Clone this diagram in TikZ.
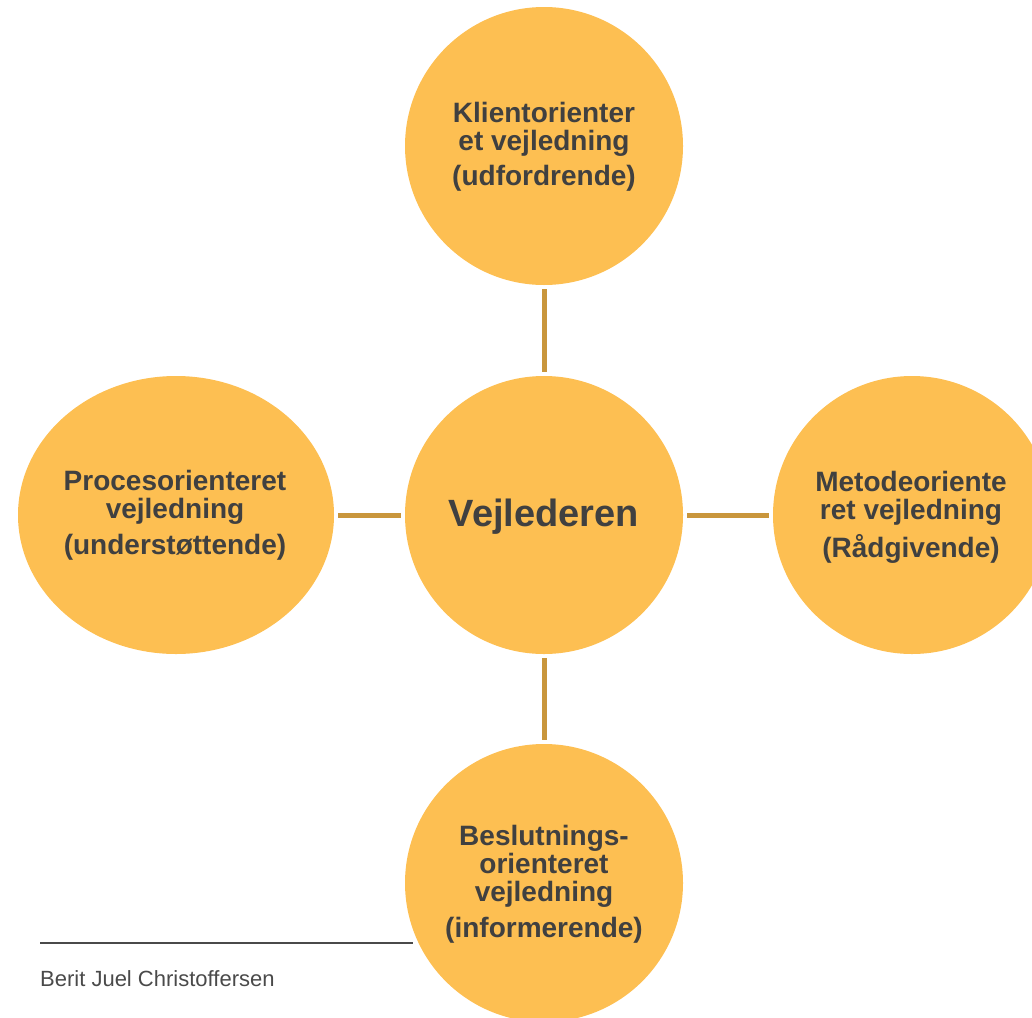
\documentclass[tikz,border=0pt]{standalone}
\usepackage{fontspec}
\setmainfont{Liberation Sans}
\usetikzlibrary{shapes.geometric}
\definecolor{bubble}{HTML}{FDBF52}
\definecolor{link}{HTML}{C9963C}
\definecolor{ink}{HTML}{404040}
\definecolor{foot}{HTML}{4A4A4A}
\tikzset{
  bubble/.style={circle, fill=bubble, draw=none, minimum size=278pt, inner sep=0pt},
  oval/.style={ellipse, fill=bubble, draw=none, minimum width=316pt, minimum height=278pt, inner sep=0pt},
  conn/.style={draw=link, line width=5pt, shorten >=4pt, shorten <=4pt},
  label/.style={text=ink, align=center, inner sep=0pt, anchor=north, font=\bfseries\fontsize{28}{28}\selectfont},
}
\begin{document}
\begin{tikzpicture}[x=1pt,y=-1pt]
\useasboundingbox (0,0) rectangle (1032,1017);
\clip (0,0) rectangle (1032,1017);
\node[bubble] (top) at (544,146) {};
\node[bubble] (mid) at (544,515) {};
\node[oval] (left) at (176,515) {};
\node[bubble] (right) at (912,515) {};
\node[bubble] (bot) at (544,883) {};

\draw[conn] (top) -- (mid);
\draw[conn] (left) -- (mid);
\draw[conn] (mid) -- (right);
\draw[conn] (mid) -- (bot);

\node[text=ink, inner sep=0pt, anchor=base, font=\bfseries\fontsize{38}{38}\selectfont] (midt) at (544,526) {Vejlederen};
\node[label] (topt) at (544,102) {Klientorienter\\et vejledning\\[7pt](udfordrende)};
\node[label] (leftt) at (175,470) {Procesorienteret\\vejledning\\[8pt](understøttende)};
\node[label] (rightt) at (911,471) {Metodeoriente\\ret vejledning\\[8pt](Rådgivende)};
\node[label] (bott) at (544,825) {Beslutnings-\\orienteret\\vejledning\\[8pt](informerende)};

\draw[foot, line width=1.2pt] (40,943) -- (413,943);
\node[text=foot, inner sep=0pt, anchor=base west, font=\fontsize{22}{22}\selectfont] (author) at (40,986) {Berit Juel Christoffersen};
\end{tikzpicture}
\end{document}
